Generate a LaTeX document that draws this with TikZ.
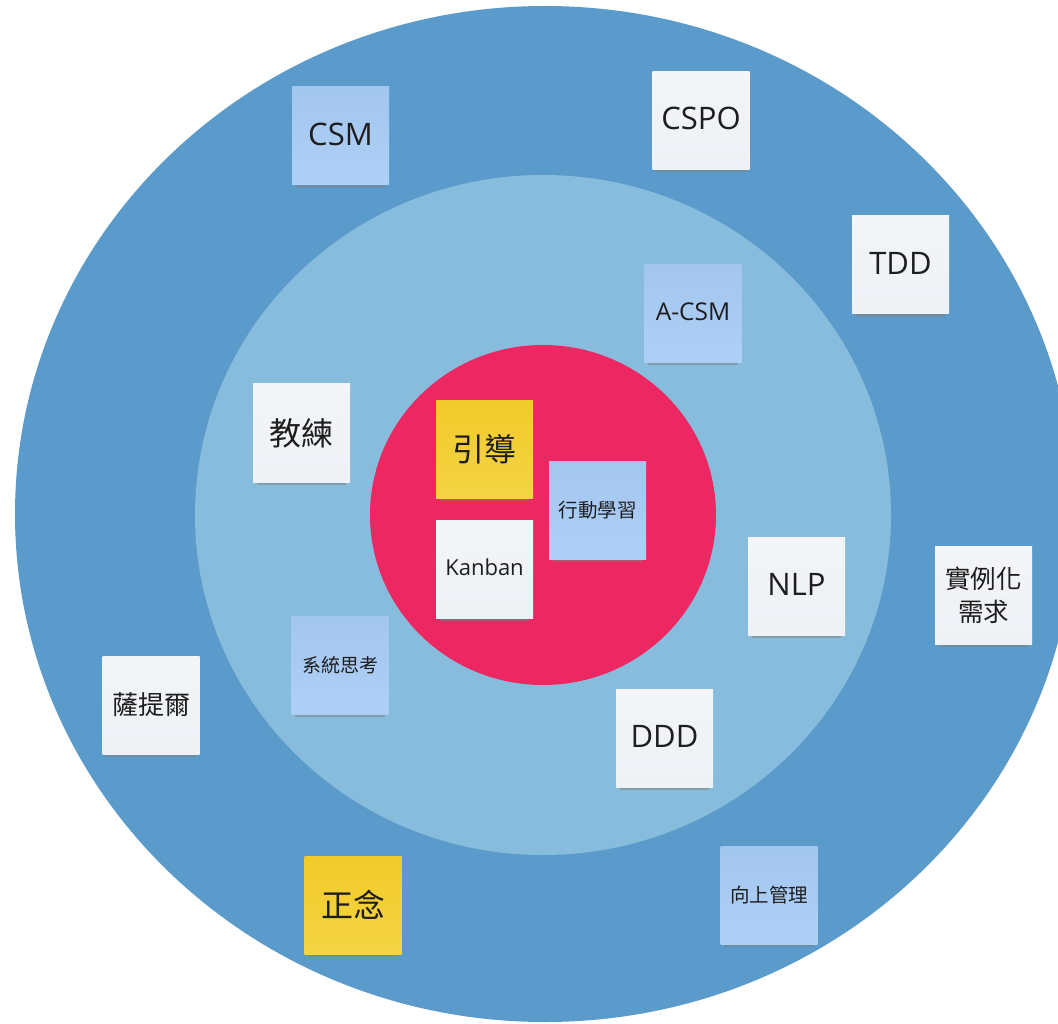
\documentclass[tikz,border=0pt]{standalone}
\usepackage{fontspec}
\setmainfont{Open Sans}
\newfontfamily\cjk{Noto Sans CJK TC}
\usetikzlibrary{shadows}
\definecolor{ringouter}{HTML}{5B9BCB}
\definecolor{ringmid}{HTML}{87BCDC}
\definecolor{core}{HTML}{EC2761}
\definecolor{notewhite}{HTML}{F3F5F8}
\definecolor{notewhiteb}{HTML}{EEF1F5}
\definecolor{noteblue}{HTML}{A3C6EF}
\definecolor{notebluet}{HTML}{AFD0F6}
\definecolor{noteyellow}{HTML}{F2CB2A}
\definecolor{noteyellowb}{HTML}{F4D444}
\definecolor{ink}{HTML}{1E1E1E}
\tikzset{
  note/.style={minimum width=97pt, minimum height=98pt, inner sep=0pt, align=center,
    text=ink, drop shadow={shadow xshift=0pt, shadow yshift=-7pt, opacity=0.5, shadow scale=0.92}},
  whitenote/.style={note, top color=notewhite, bottom color=notewhiteb},
  bluenote/.style={note, top color=noteblue, bottom color=notebluet},
  yellownote/.style={note, top color=noteyellow, bottom color=noteyellowb},
}
\begin{document}
\begin{tikzpicture}[x=1pt,y=-1pt]
\useasboundingbox (0,0) rectangle (1058,1024);
\clip (0,0) rectangle (1058,1024);
\fill[white] (0,0) rectangle (1058,1024);
\fill[ringouter] (545,514) ellipse [x radius=530pt, y radius=508pt];
\fill[ringmid] (543,515) ellipse [x radius=348pt, y radius=340pt];
\fill[core] (543,515) ellipse [x radius=173pt, y radius=170pt];

\node[bluenote, font=\fontsize{31}{34}\selectfont]   (csm)    at (340.5,136) {\raisebox{4pt}{CSM}};
\node[whitenote, font=\fontsize{31}{34}\selectfont]  (cspo)   at (701,120.5) {\raisebox{4pt}{CSPO}};
\node[whitenote, font=\fontsize{31}{34}\selectfont]  (tdd)    at (900.5,265) {\raisebox{4pt}{TDD}};
\node[bluenote, font=\fontsize{24.5}{28}\selectfont]   (acsm)   at (693,313.5) {\raisebox{3pt}{A-CSM}};
\node[whitenote, font=\cjk\fontsize{32}{36}\selectfont]  (coach)  at (301.5,433) {\raisebox{2pt}{教練}};
\node[yellownote, font=\cjk\fontsize{32}{36}\selectfont] (facil)  at (484.5,449.5) {\raisebox{3pt}{引導}};
\node[bluenote, font=\cjk\fontsize{19.5}{24}\selectfont]   (action) at (597.5,510) {行動學習};
\node[whitenote, font=\fontsize{22}{25}\selectfont]  (kanban) at (484.5,569) {\raisebox{3pt}{Kanban}};
\node[whitenote, font=\fontsize{31}{34}\selectfont]  (nlp)    at (796.5,586) {\raisebox{4pt}{NLP}};
\node[whitenote, font=\cjk\fontsize{25.5}{33}\selectfont]  (sbe)    at (983.5,595) {實例化\\需求};
\node[bluenote, font=\cjk\fontsize{19}{24}\selectfont]   (syst)   at (340,665) {\raisebox{2pt}{系統思考}};
\node[whitenote, font=\cjk\fontsize{26}{30}\selectfont]  (satir)  at (151,705) {\raisebox{3pt}{薩提爾}};
\node[whitenote, font=\fontsize{31}{34}\selectfont]  (ddd)    at (664.5,738.5) {\raisebox{4pt}{DDD}};
\node[yellownote, font=\cjk\fontsize{32}{36}\selectfont] (mind)   at (353,905) {\raisebox{2pt}{正念}};
\node[bluenote, font=\cjk\fontsize{19.5}{24}\selectfont]   (upmgmt) at (769,895) {\raisebox{2pt}{向上管理}};
\end{tikzpicture}
\end{document}
